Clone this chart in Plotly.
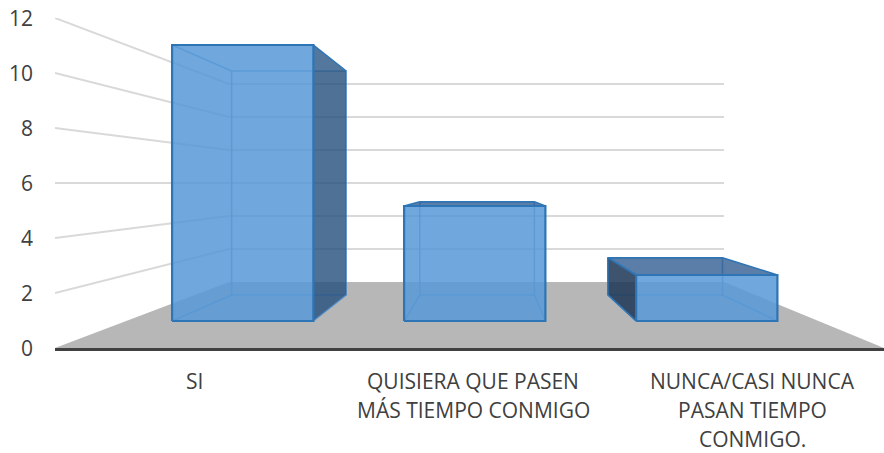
import plotly.graph_objects as go

# Data
category_lines = [
    ["SI"],
    ["QUISIERA QUE PASEN", "MÁS TIEMPO CONMIGO"],
    ["NUNCA/CASI NUNCA", "PASAN TIEMPO", "CONMIGO."],
]
values = [12, 5, 2]
y_ticks = [0, 2, 4, 6, 8, 10, 12]

# Look of the 3-D box (Excel style perspective)
BACK_LEFT, BACK_RIGHT = 0.21, 0.807      # back wall x span, in front-plane units
BACK_FLOOR, BACK_SCALE = 2.4, 0.6        # back wall base and vertical scale
BAR_FRONT, BAR_BACK = 0.409, 0.803       # depth of the bars (vertical)
X_DEPTH = {BAR_FRONT: 0.398, BAR_BACK: 0.792}  # depth of the bars (horizontal)
BAR_W = 0.203
SLOT_SHIFT = 0.0035
LABEL_STEP = 0.3365

FONT = "Open Sans"
TEXT = "#404040"
GRID = "#D9D9D9"
FLOOR = "#B7B7B7"
EDGE = "#2E75B6"
INNER = "rgba(70,140,210,0.75)"
FRONT = "rgba(89,153,214,0.85)"
HIDDEN = "rgba(89,153,214,0.10)"
TOP = "rgba(40,85,140,0.75)"
RIGHT = "rgba(40,80,125,0.80)"
LEFT = "rgba(30,55,85,0.85)"


def proj(u, v, d):
    """Wall coordinates (across, value, depth) -> front-plane axis coordinates."""
    dx = X_DEPTH.get(d, d)
    left = BACK_LEFT * dx
    right = 1 + (BACK_RIGHT - 1) * dx
    x = left + (right - left) * u
    y = BACK_FLOOR * d + v * (1 + (BACK_SCALE - 1) * d)
    return x, y


def path(points):
    xy = [proj(*p) for p in points]
    return [p[0] for p in xy], [p[1] for p in xy]


fig = go.Figure()


def poly(points, fill, line=None, width=0):
    xs, ys = path(points + [points[0]])
    fig.add_trace(go.Scatter(
        x=xs, y=ys, mode="lines", fill="toself", fillcolor=fill,
        line=dict(color=line or "rgba(0,0,0,0)", width=width),
        hoverinfo="skip", showlegend=False, cliponaxis=False))


def line(points, color, width):
    xs, ys = path(points)
    fig.add_trace(go.Scatter(
        x=xs, y=ys, mode="lines", line=dict(color=color, width=width),
        hoverinfo="skip", showlegend=False, cliponaxis=False))


# Walls
for t in y_ticks[1:]:
    line([(0, t, 0), (0, t, 1), (1, t, 1)], GRID, 2)

# Floor
poly([(0, 0, 0), (1, 0, 0), (1, 0, 1), (0, 0, 1)], FLOOR)

# Bars
for i, val in enumerate(values):
    u0 = (i + 0.5) / 3 + SLOT_SHIFT - BAR_W / 2
    u1 = u0 + BAR_W
    f, b = BAR_FRONT, BAR_BACK
    fl, ft = proj(u0, val, f)
    bl, bt = proj(u0, val, b)
    fr = proj(u1, val, f)[0]
    br = proj(u1, val, b)[0]

    left_out = bl < fl
    right_out = br > fr
    top_out = bt > ft

    # back face and floor of the bar, with the back outline under the side faces
    poly([(u0, 0, b), (u1, 0, b), (u1, val, b), (u0, val, b)], HIDDEN)
    poly([(u0, 0, f), (u1, 0, f), (u1, 0, b), (u0, 0, b)], HIDDEN)
    line([(u0, 0, b), (u1, 0, b), (u1, val, b), (u0, val, b), (u0, 0, b)], INNER, 1.5)

    # side and top faces: dark only where they are not behind the front face
    poly([(u0, 0, f), (u0, val, f), (u0, val, b), (u0, 0, b)], LEFT if left_out else HIDDEN)
    poly([(u1, 0, f), (u1, val, f), (u1, val, b), (u1, 0, b)], RIGHT if right_out else HIDDEN)
    poly([(u0, val, f), (u1, val, f), (u1, val, b), (u0, val, b)], TOP if top_out else HIDDEN)

    # edges running back
    for uu in (u0, u1):
        line([(uu, 0, f), (uu, 0, b)], INNER, 1.5)
        line([(uu, val, f), (uu, val, b)], EDGE if top_out or (uu == u1 and right_out) else INNER, 1.5)

    # front face
    poly([(u0, 0, f), (u1, 0, f), (u1, val, f), (u0, val, f)], FRONT, EDGE, 2.2)

    # back edges where they form the silhouette
    if left_out:
        line([(u0, 0, f), (u0, 0, b), (u0, val, b), (u0, val, f)], EDGE, 1.5)
    if top_out:
        line([(u0, val, b), (u1, val, b)], EDGE, 1.5)

    # category label, one line at a time
    for k, txt in enumerate(category_lines[i]):
        fig.add_annotation(
            x=(i + 0.5) * LABEL_STEP, xref="x", xanchor="center",
            y=0, yref="paper", yanchor="middle", yshift=-33 - 29 * k,
            text=txt, showarrow=False,
            font=dict(family=FONT, size=21, color=TEXT))

fig.update_layout(
    width=884, height=453,
    margin=dict(l=55, r=0, t=18, b=105),
    paper_bgcolor="white", plot_bgcolor="white",
    showlegend=False,
    font=dict(family=FONT, size=21, color=TEXT),
    xaxis=dict(range=[0, 1], showgrid=False, zeroline=False, showticklabels=False,
               ticks="", showline=True, linecolor="#404040", linewidth=3),
    yaxis=dict(range=[0, 12], tickvals=y_ticks, showgrid=False, zeroline=False,
               ticks="", showline=False, ticklabelstandoff=21, ticklabelshift=1,
               tickfont=dict(family=FONT, size=21, color=TEXT)),
)

fig.write_html(
    "out.html",
    config={"displayModeBar": False},
    post_script="document.body.style.margin='0';document.body.style.overflow='hidden';",
)
